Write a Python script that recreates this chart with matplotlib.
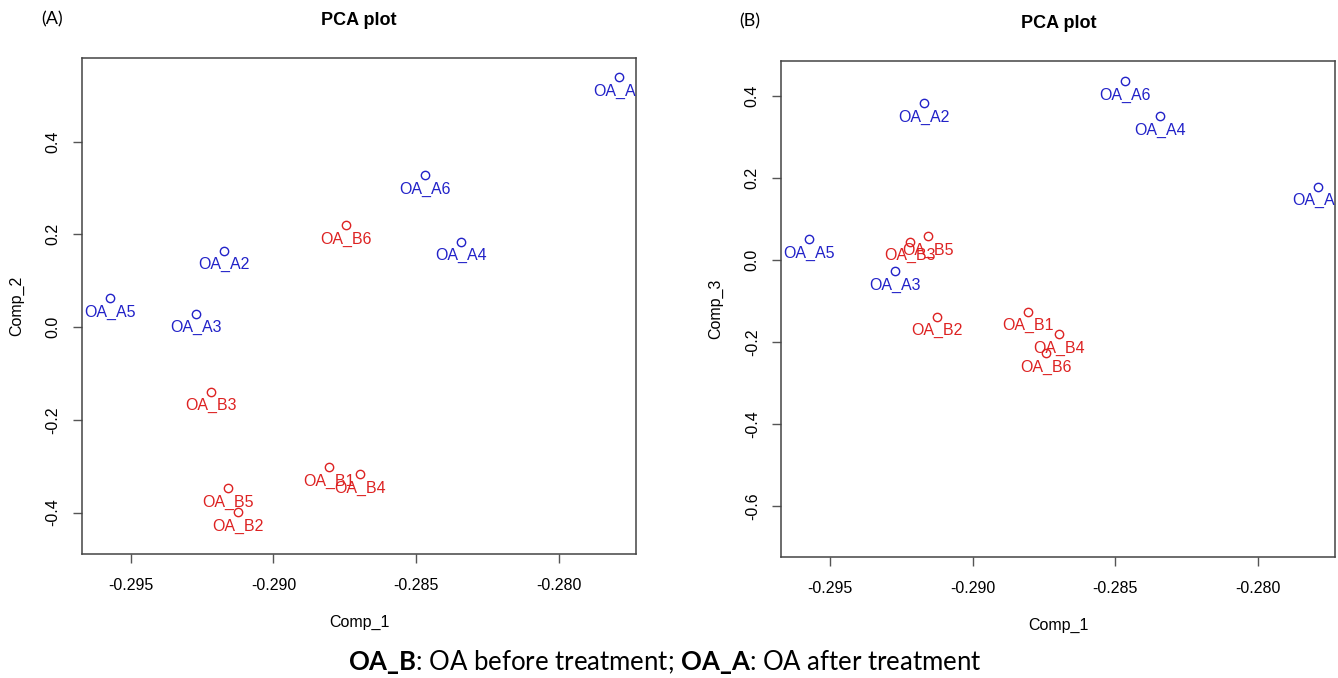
import matplotlib
matplotlib.use("Agg")
import matplotlib.pyplot as plt
import matplotlib.transforms as mtransforms

# sample names and PCA scores
samples = ["OA_A1", "OA_A2", "OA_A3", "OA_A4", "OA_A5", "OA_A6",
           "OA_B1", "OA_B2", "OA_B3", "OA_B4", "OA_B5", "OA_B6"]
comp1 = [-0.27788, -0.29172, -0.29271, -0.28343, -0.29574, -0.28467,
         -0.28805, -0.29125, -0.29220, -0.28696, -0.29158, -0.28744]
comp2 = [0.539, 0.1645, 0.0287, 0.1839, 0.0619, 0.3278,
         -0.3019, -0.3996, -0.1395, -0.3177, -0.3472, 0.220]
comp3 = [0.1787, 0.3819, -0.0268, 0.351, 0.0512, 0.4363,
         -0.126, -0.1381, 0.0446, -0.181, 0.0585, -0.2275]

xticks = [-0.295, -0.290, -0.285, -0.280]
yticks_a = [-0.4, -0.2, 0.0, 0.2, 0.4]
yticks_b = [-0.6, -0.4, -0.2, 0.0, 0.2, 0.4]

BLUE = "#2222c8"
RED = "#dd2222"
RFONT = "Liberation Sans"

W, H = 1338, 678
fig = plt.figure(figsize=(W / 100, H / 100), dpi=100)


def px_axes(left, top, right, bottom):
    return fig.add_axes([left / W, (H - bottom) / H, (right - left) / W, (bottom - top) / H])


def pca_panel(ax, ys, yticks, ylim, ylabel):
    for name, x, y in zip(samples, comp1, ys):
        col = BLUE if name.startswith("OA_A") else RED
        ax.plot(x, y, "o", ms=6, mfc="none", mec=col, mew=1.0, clip_on=False)
        trans = mtransforms.offset_copy(ax.transData, fig=fig, x=0, y=-14, units="dots")
        ax.text(x, y, name, color=col, fontsize=11.5, family=RFONT,
                ha="center", va="center", transform=trans, clip_on=True)
    ax.set_xlim(-0.29671, -0.27729)
    ax.set_ylim(*ylim)
    ax.set_xticks(xticks)
    ax.set_xticklabels(["%.3f" % t for t in xticks])
    ax.set_yticks(yticks)
    ax.set_yticklabels(["%.1f" % t for t in yticks], rotation=90, va="center")
    for lab in ax.get_xticklabels() + ax.get_yticklabels():
        lab.set_family(RFONT)
        lab.set_fontsize(11.5)
    ax.tick_params(direction="out", length=6.5, width=1, color="#555555")
    ax.tick_params(axis="x", pad=10.5)
    ax.tick_params(axis="y", pad=9)
    for s in ax.spines.values():
        s.set_color("#444444")
        s.set_linewidth(1.1)
    ax.set_xlabel("Comp_1", family=RFONT, fontsize=11.5)
    ax.set_ylabel(ylabel, family=RFONT, fontsize=11.5)
    ax.xaxis.set_label_coords(0.5, -0.122)
    ax.yaxis.set_label_coords(-0.104, 0.5)
    ax.set_title("PCA plot", family=RFONT, fontsize=13, fontweight="bold", pad=24)


axA = px_axes(82, 58.3, 636, 554.3)
pca_panel(axA, comp2, yticks_a, (-0.490, 0.5795), "Comp_2")
axB = px_axes(781.3, 61, 1335.3, 557.3)
pca_panel(axB, comp3, yticks_b, (-0.7246, 0.485), "Comp_3")

fig.text(52 / W, 1 - 19 / H, "(A)", family="Lato", fontsize=13, ha="center", va="center")
fig.text(750 / W, 1 - 21 / H, "(B)", family="Lato", fontsize=13, ha="center", va="center")

plt.rcParams["mathtext.fontset"] = "custom"
plt.rcParams["mathtext.bf"] = "Lato:bold"
plt.rcParams["mathtext.rm"] = "Lato"
fig.text(665 / W, 1 - 662 / H,
         r"$\mathbf{OA\_B}$: OA before treatment; $\mathbf{OA\_A}$: OA after treatment",
         family="Lato", fontsize=18.5, ha="center", va="center")

fig.savefig("out.png", dpi=100)
